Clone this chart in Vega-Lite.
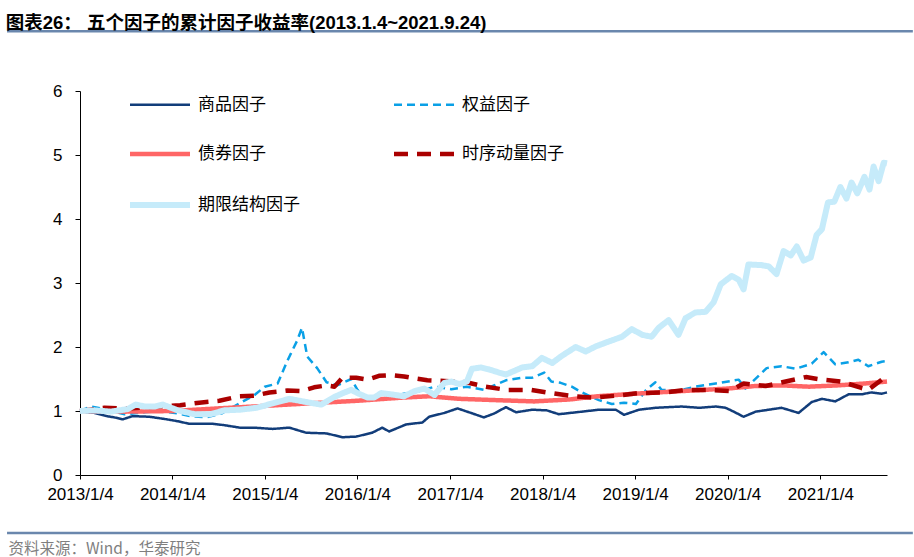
{
  "$schema": "https://vega.github.io/schema/vega-lite/v6.json",
  "width": 807,
  "height": 384,
  "autosize": {"type": "none"},
  "padding": {"left": 80, "top": 91, "right": 27, "bottom": 82},
  "background": "white",
  "title": {
    "text": "图表26：  五个因子的累计因子收益率(2013.1.4~2021.9.24)",
    "anchor": "start",
    "font": "Liberation Sans, Noto Sans CJK SC",
    "fontSize": 18.5,
    "fontWeight": "bold",
    "color": "#000000",
    "offset": -2
  },
  "config": {
    "view": {"stroke": null},
    "axis": {"grid": false, "domainColor": "#000000", "tickColor": "#000000", "labelColor": "#000000", "labelFont": "Liberation Sans", "labelFontSize": 17}
  },
  "layer": [
    {
      "data": {"values": [
        {"t":"2013-01-04","k":"商品因子","v":1.00},{"t":"2013-02-01","k":"商品因子","v":0.98},{"t":"2013-03-02","k":"商品因子","v":0.97},{"t":"2013-04-19","k":"商品因子","v":0.92},{"t":"2013-05-20","k":"商品因子","v":0.90},{"t":"2013-06-22","k":"商品因子","v":0.87},{"t":"2013-07-30","k":"商品因子","v":0.92},{"t":"2013-10-06","k":"商品因子","v":0.91},{"t":"2013-12-12","k":"商品因子","v":0.87},{"t":"2014-01-25","k":"商品因子","v":0.84},{"t":"2014-03-11","k":"商品因子","v":0.80},{"t":"2014-06-11","k":"商品因子","v":0.80},{"t":"2014-07-25","k":"商品因子","v":0.78},{"t":"2014-09-26","k":"商品因子","v":0.74},{"t":"2014-11-20","k":"商品因子","v":0.74},{"t":"2015-02-04","k":"商品因子","v":0.72},{"t":"2015-04-10","k":"商品因子","v":0.74},{"t":"2015-06-16","k":"商品因子","v":0.66},{"t":"2015-09-04","k":"商品因子","v":0.65},{"t":"2015-11-06","k":"商品因子","v":0.59},{"t":"2015-12-30","k":"商品因子","v":0.60},{"t":"2016-03-02","k":"商品因子","v":0.66},{"t":"2016-04-11","k":"商品因子","v":0.74},{"t":"2016-05-08","k":"商品因子","v":0.68},{"t":"2016-07-14","k":"商品因子","v":0.79},{"t":"2016-09-16","k":"商品因子","v":0.82},{"t":"2016-10-13","k":"商品因子","v":0.91},{"t":"2016-12-12","k":"商品因子","v":0.97},{"t":"2017-02-02","k":"商品因子","v":1.04},{"t":"2017-03-27","k":"商品因子","v":0.97},{"t":"2017-05-17","k":"商品因子","v":0.90},{"t":"2017-06-26","k":"商品因子","v":0.96},{"t":"2017-08-12","k":"商品因子","v":1.06},{"t":"2017-09-21","k":"商品因子","v":0.98},{"t":"2017-11-24","k":"商品因子","v":1.02},{"t":"2018-01-20","k":"商品因子","v":1.01},{"t":"2018-03-09","k":"商品因子","v":0.95},{"t":"2018-06-08","k":"商品因子","v":0.99},{"t":"2018-08-14","k":"商品因子","v":1.02},{"t":"2018-10-20","k":"商品因子","v":1.02},{"t":"2018-11-21","k":"商品因子","v":0.94},{"t":"2019-01-19","k":"商品因子","v":1.02},{"t":"2019-03-25","k":"商品因子","v":1.05},{"t":"2019-07-06","k":"商品因子","v":1.07},{"t":"2019-09-15","k":"商品因子","v":1.05},{"t":"2019-11-18","k":"商品因子","v":1.07},{"t":"2019-12-27","k":"商品因子","v":1.05},{"t":"2020-01-28","k":"商品因子","v":0.99},{"t":"2020-03-07","k":"商品因子","v":0.91},{"t":"2020-04-24","k":"商品因子","v":0.99},{"t":"2020-08-04","k":"商品因子","v":1.05},{"t":"2020-10-10","k":"商品因子","v":0.97},{"t":"2020-12-01","k":"商品因子","v":1.14},{"t":"2021-01-10","k":"商品因子","v":1.19},{"t":"2021-03-04","k":"商品因子","v":1.15},{"t":"2021-04-25","k":"商品因子","v":1.26},{"t":"2021-06-15","k":"商品因子","v":1.26},{"t":"2021-07-24","k":"商品因子","v":1.29},{"t":"2021-09-03","k":"商品因子","v":1.27},{"t":"2021-09-24","k":"商品因子","v":1.29},
        {"t":"2013-01-04","k":"权益因子","v":1.00},{"t":"2013-02-17","k":"权益因子","v":1.07},{"t":"2013-04-19","k":"权益因子","v":1.02},{"t":"2013-06-29","k":"权益因子","v":0.95},{"t":"2013-09-17","k":"权益因子","v":0.98},{"t":"2013-11-15","k":"权益因子","v":1.00},{"t":"2014-01-14","k":"权益因子","v":0.97},{"t":"2014-03-15","k":"权益因子","v":0.92},{"t":"2014-05-18","k":"权益因子","v":0.90},{"t":"2014-07-16","k":"权益因子","v":0.96},{"t":"2014-09-26","k":"权益因子","v":1.12},{"t":"2014-11-24","k":"权益因子","v":1.25},{"t":"2015-01-03","k":"权益因子","v":1.38},{"t":"2015-02-23","k":"权益因子","v":1.43},{"t":"2015-04-02","k":"权益因子","v":1.78},{"t":"2015-05-11","k":"权益因子","v":2.10},{"t":"2015-05-30","k":"权益因子","v":2.30},{"t":"2015-06-20","k":"权益因子","v":1.85},{"t":"2015-07-29","k":"权益因子","v":1.67},{"t":"2015-09-04","k":"权益因子","v":1.45},{"t":"2015-10-16","k":"权益因子","v":1.40},{"t":"2015-12-11","k":"权益因子","v":1.50},{"t":"2016-01-04","k":"权益因子","v":1.33},{"t":"2016-02-01","k":"权益因子","v":1.20},{"t":"2016-04-19","k":"权益因子","v":1.20},{"t":"2016-07-06","k":"权益因子","v":1.27},{"t":"2016-08-27","k":"权益因子","v":1.30},{"t":"2016-11-03","k":"权益因子","v":1.38},{"t":"2017-01-09","k":"权益因子","v":1.34},{"t":"2017-03-11","k":"权益因子","v":1.38},{"t":"2017-05-17","k":"权益因子","v":1.33},{"t":"2017-06-26","k":"权益因子","v":1.40},{"t":"2017-08-12","k":"权益因子","v":1.48},{"t":"2017-10-15","k":"权益因子","v":1.52},{"t":"2017-11-24","k":"权益因子","v":1.52},{"t":"2018-01-10","k":"权益因子","v":1.60},{"t":"2018-02-07","k":"权益因子","v":1.46},{"t":"2018-03-16","k":"权益因子","v":1.44},{"t":"2018-04-29","k":"权益因子","v":1.38},{"t":"2018-06-08","k":"权益因子","v":1.29},{"t":"2018-08-14","k":"权益因子","v":1.17},{"t":"2018-10-04","k":"权益因子","v":1.11},{"t":"2018-11-21","k":"权益因子","v":1.13},{"t":"2019-01-07","k":"权益因子","v":1.11},{"t":"2019-02-16","k":"权益因子","v":1.33},{"t":"2019-03-25","k":"权益因子","v":1.45},{"t":"2019-04-18","k":"权益因子","v":1.33},{"t":"2019-06-24","k":"权益因子","v":1.32},{"t":"2019-08-30","k":"权益因子","v":1.38},{"t":"2019-11-18","k":"权益因子","v":1.43},{"t":"2020-02-17","k":"权益因子","v":1.49},{"t":"2020-03-14","k":"权益因子","v":1.35},{"t":"2020-06-06","k":"权益因子","v":1.67},{"t":"2020-08-04","k":"权益因子","v":1.70},{"t":"2020-09-29","k":"权益因子","v":1.66},{"t":"2020-12-01","k":"权益因子","v":1.74},{"t":"2021-01-17","k":"权益因子","v":1.92},{"t":"2021-03-04","k":"权益因子","v":1.73},{"t":"2021-04-25","k":"权益因子","v":1.76},{"t":"2021-06-03","k":"权益因子","v":1.80},{"t":"2021-07-12","k":"权益因子","v":1.70},{"t":"2021-09-03","k":"权益因子","v":1.77},{"t":"2021-09-24","k":"权益因子","v":1.78},
        {"t":"2013-01-04","k":"债券因子","v":1.00},{"t":"2013-07-01","k":"债券因子","v":0.99},{"t":"2014-01-03","k":"债券因子","v":1.00},{"t":"2014-07-01","k":"债券因子","v":1.04},{"t":"2015-01-05","k":"债券因子","v":1.08},{"t":"2015-07-01","k":"债券因子","v":1.12},{"t":"2016-01-04","k":"债券因子","v":1.16},{"t":"2016-07-01","k":"债券因子","v":1.21},{"t":"2016-10-14","k":"债券因子","v":1.23},{"t":"2017-02-10","k":"债券因子","v":1.19},{"t":"2017-07-01","k":"债券因子","v":1.17},{"t":"2017-12-01","k":"债券因子","v":1.15},{"t":"2018-04-20","k":"债券因子","v":1.18},{"t":"2018-08-07","k":"债券因子","v":1.23},{"t":"2019-01-02","k":"债券因子","v":1.27},{"t":"2019-07-01","k":"债券因子","v":1.31},{"t":"2020-01-02","k":"债券因子","v":1.35},{"t":"2020-04-20","k":"债券因子","v":1.39},{"t":"2020-08-07","k":"债券因子","v":1.40},{"t":"2020-11-20","k":"债券因子","v":1.38},{"t":"2021-03-12","k":"债券因子","v":1.40},{"t":"2021-06-30","k":"债券因子","v":1.43},{"t":"2021-09-24","k":"债券因子","v":1.46},
        {"t":"2013-01-04","k":"时序动量因子","v":1.00},{"t":"2013-04-11","k":"时序动量因子","v":1.05},{"t":"2013-07-11","k":"时序动量因子","v":1.04},{"t":"2013-11-03","k":"时序动量因子","v":1.07},{"t":"2014-02-03","k":"时序动量因子","v":1.09},{"t":"2014-04-20","k":"时序动量因子","v":1.13},{"t":"2014-07-08","k":"时序动量因子","v":1.16},{"t":"2014-09-26","k":"时序动量因子","v":1.23},{"t":"2014-11-24","k":"时序动量因子","v":1.24},{"t":"2015-01-22","k":"时序动量因子","v":1.29},{"t":"2015-04-02","k":"时序动量因子","v":1.32},{"t":"2015-05-26","k":"时序动量因子","v":1.31},{"t":"2015-07-17","k":"时序动量因子","v":1.37},{"t":"2015-09-04","k":"时序动量因子","v":1.40},{"t":"2015-10-05","k":"时序动量因子","v":1.38},{"t":"2015-11-06","k":"时序动量因子","v":1.52},{"t":"2015-12-30","k":"时序动量因子","v":1.52},{"t":"2016-02-13","k":"时序动量因子","v":1.49},{"t":"2016-03-29","k":"时序动量因子","v":1.55},{"t":"2016-05-16","k":"时序动量因子","v":1.56},{"t":"2016-07-06","k":"时序动量因子","v":1.54},{"t":"2016-08-16","k":"时序动量因子","v":1.51},{"t":"2016-10-06","k":"时序动量因子","v":1.48},{"t":"2016-12-12","k":"时序动量因子","v":1.47},{"t":"2017-03-08","k":"时序动量因子","v":1.45},{"t":"2017-05-25","k":"时序动量因子","v":1.38},{"t":"2017-08-12","k":"时序动量因子","v":1.33},{"t":"2017-11-20","k":"时序动量因子","v":1.33},{"t":"2018-02-07","k":"时序动量因子","v":1.28},{"t":"2018-05-07","k":"时序动量因子","v":1.23},{"t":"2018-07-24","k":"时序动量因子","v":1.21},{"t":"2018-10-24","k":"时序动量因子","v":1.24},{"t":"2019-01-19","k":"时序动量因子","v":1.28},{"t":"2019-04-30","k":"时序动量因子","v":1.29},{"t":"2019-07-25","k":"时序动量因子","v":1.33},{"t":"2019-10-13","k":"时序动量因子","v":1.33},{"t":"2020-01-12","k":"时序动量因子","v":1.31},{"t":"2020-03-07","k":"时序动量因子","v":1.43},{"t":"2020-06-02","k":"时序动量因子","v":1.39},{"t":"2020-08-20","k":"时序动量因子","v":1.46},{"t":"2020-11-08","k":"时序动量因子","v":1.53},{"t":"2021-01-10","k":"时序动量因子","v":1.49},{"t":"2021-03-28","k":"时序动量因子","v":1.46},{"t":"2021-06-15","k":"时序动量因子","v":1.36},{"t":"2021-07-12","k":"时序动量因子","v":1.33},{"t":"2021-09-03","k":"时序动量因子","v":1.49},{"t":"2021-09-24","k":"时序动量因子","v":1.50},
        {"t":"2013-01-04","k":"期限结构因子","v":1.00},{"t":"2013-03-02","k":"期限结构因子","v":1.01},{"t":"2013-05-05","k":"期限结构因子","v":0.99},{"t":"2013-07-11","k":"期限结构因子","v":1.03},{"t":"2013-08-12","k":"期限结构因子","v":1.10},{"t":"2013-09-17","k":"期限结构因子","v":1.07},{"t":"2013-10-26","k":"期限结构因子","v":1.07},{"t":"2013-11-27","k":"期限结构因子","v":1.10},{"t":"2014-01-25","k":"期限结构因子","v":1.01},{"t":"2014-04-01","k":"期限结构因子","v":0.95},{"t":"2014-06-03","k":"期限结构因子","v":0.95},{"t":"2014-07-28","k":"期限结构因子","v":1.01},{"t":"2014-09-26","k":"期限结构因子","v":1.02},{"t":"2014-12-02","k":"期限结构因子","v":1.05},{"t":"2015-02-04","k":"期限结构因子","v":1.12},{"t":"2015-04-10","k":"期限结构因子","v":1.19},{"t":"2015-06-16","k":"期限结构因子","v":1.14},{"t":"2015-08-14","k":"期限结构因子","v":1.10},{"t":"2015-10-05","k":"期限结构因子","v":1.22},{"t":"2015-11-14","k":"期限结构因子","v":1.29},{"t":"2015-12-11","k":"期限结构因子","v":1.33},{"t":"2016-01-04","k":"期限结构因子","v":1.28},{"t":"2016-02-13","k":"期限结构因子","v":1.21},{"t":"2016-03-10","k":"期限结构因子","v":1.21},{"t":"2016-04-07","k":"期限结构因子","v":1.28},{"t":"2016-05-16","k":"期限结构因子","v":1.26},{"t":"2016-07-06","k":"期限结构因子","v":1.23},{"t":"2016-08-16","k":"期限结构因子","v":1.31},{"t":"2016-09-24","k":"期限结构因子","v":1.35},{"t":"2016-11-03","k":"期限结构因子","v":1.25},{"t":"2016-12-12","k":"期限结构因子","v":1.44},{"t":"2017-01-09","k":"期限结构因子","v":1.46},{"t":"2017-02-10","k":"期限结构因子","v":1.42},{"t":"2017-03-11","k":"期限结构因子","v":1.46},{"t":"2017-03-31","k":"期限结构因子","v":1.66},{"t":"2017-05-05","k":"期限结构因子","v":1.68},{"t":"2017-06-06","k":"期限结构因子","v":1.65},{"t":"2017-07-16","k":"期限结构因子","v":1.60},{"t":"2017-08-12","k":"期限结构因子","v":1.57},{"t":"2017-10-15","k":"期限结构因子","v":1.68},{"t":"2017-11-24","k":"期限结构因子","v":1.70},{"t":"2018-01-01","k":"期限结构因子","v":1.83},{"t":"2018-02-11","k":"期限结构因子","v":1.75},{"t":"2018-03-20","k":"期限结构因子","v":1.86},{"t":"2018-05-14","k":"期限结构因子","v":2.00},{"t":"2018-06-23","k":"期限结构因子","v":1.93},{"t":"2018-08-02","k":"期限结构因子","v":2.01},{"t":"2018-09-11","k":"期限结构因子","v":2.07},{"t":"2018-11-13","k":"期限结构因子","v":2.16},{"t":"2018-12-22","k":"期限结构因子","v":2.28},{"t":"2019-02-01","k":"期限结构因子","v":2.19},{"t":"2019-03-10","k":"期限结构因子","v":2.16},{"t":"2019-04-07","k":"期限结构因子","v":2.30},{"t":"2019-05-16","k":"期限结构因子","v":2.42},{"t":"2019-06-24","k":"期限结构因子","v":2.19},{"t":"2019-07-22","k":"期限结构因子","v":2.45},{"t":"2019-08-30","k":"期限结构因子","v":2.54},{"t":"2019-10-09","k":"期限结构因子","v":2.55},{"t":"2019-11-10","k":"期限结构因子","v":2.70},{"t":"2019-12-08","k":"期限结构因子","v":2.98},{"t":"2020-01-20","k":"期限结构因子","v":3.11},{"t":"2020-02-17","k":"期限结构因子","v":3.05},{"t":"2020-03-07","k":"期限结构因子","v":2.90},{"t":"2020-03-26","k":"期限结构因子","v":3.29},{"t":"2020-05-16","k":"期限结构因子","v":3.28},{"t":"2020-06-14","k":"期限结构因子","v":3.26},{"t":"2020-07-15","k":"期限结构因子","v":3.14},{"t":"2020-08-12","k":"期限结构因子","v":3.50},{"t":"2020-09-09","k":"期限结构因子","v":3.43},{"t":"2020-10-03","k":"期限结构因子","v":3.57},{"t":"2020-10-30","k":"期限结构因子","v":3.35},{"t":"2020-11-27","k":"期限结构因子","v":3.40},{"t":"2020-12-20","k":"期限结构因子","v":3.75},{"t":"2021-01-10","k":"期限结构因子","v":3.84},{"t":"2021-02-03","k":"期限结构因子","v":4.26},{"t":"2021-02-28","k":"期限结构因子","v":4.27},{"t":"2021-03-24","k":"期限结构因子","v":4.50},{"t":"2021-04-17","k":"期限结构因子","v":4.32},{"t":"2021-05-07","k":"期限结构因子","v":4.57},{"t":"2021-05-30","k":"期限结构因子","v":4.40},{"t":"2021-06-27","k":"期限结构因子","v":4.66},{"t":"2021-07-17","k":"期限结构因子","v":4.46},{"t":"2021-08-02","k":"期限结构因子","v":4.82},{"t":"2021-08-22","k":"期限结构因子","v":4.59},{"t":"2021-09-11","k":"期限结构因子","v":4.88},{"t":"2021-09-24","k":"期限结构因子","v":4.87}
      ]},
      "mark": {"type": "line", "strokeJoin": "round"},
      "encoding": {
        "x": {
          "field": "t", "type": "temporal",
          "scale": {"type": "utc", "domain": [{"year": 2013, "month": 1, "date": 4, "utc": true}, {"year": 2021, "month": 9, "date": 24, "utc": true}]},
          "axis": {
            "values": [
              {"year": 2013, "month": 1, "date": 4, "utc": true}, {"year": 2014, "month": 1, "date": 4, "utc": true}, {"year": 2015, "month": 1, "date": 4, "utc": true},
              {"year": 2016, "month": 1, "date": 4, "utc": true}, {"year": 2017, "month": 1, "date": 4, "utc": true}, {"year": 2018, "month": 1, "date": 4, "utc": true},
              {"year": 2019, "month": 1, "date": 4, "utc": true}, {"year": 2020, "month": 1, "date": 4, "utc": true}, {"year": 2021, "month": 1, "date": 4, "utc": true}
            ],
            "format": "%Y/%-m/%-d",
            "tickSize": 4,
            "labelPadding": 7,
            "labelFlush": false,
            "labelOverlap": false,
            "title": "资料来源：Wind，华泰研究",
            "titleX": -72,
            "titleY": 78,
            "titleAlign": "left",
            "titleBaseline": "alphabetic",
            "titleFont": "Noto Sans CJK SC",
            "titleFontSize": 15.5,
            "titleFontWeight": "normal",
            "titleColor": "#7f7f7f"
          }
        },
        "y": {
          "field": "v", "type": "quantitative",
          "scale": {"domain": [0, 6], "nice": false},
          "axis": {"values": [0, 1, 2, 3, 4, 5, 6], "format": "d", "tickSize": 5, "labelPadding": 13, "title": null}
        },
        "color": {
          "field": "k", "type": "nominal",
          "scale": {"domain": ["商品因子", "权益因子", "债券因子", "时序动量因子", "期限结构因子"], "range": ["#123d7a", "#0aa0e6", "#ff6666", "#aa0000", "#c6ebfa"]},
          "legend": {
            "title": null, "orient": "none", "legendX": 47, "legendY": -18, "columns": 2, "direction": "horizontal",
            "columnPadding": 85, "rowPadding": 8.5, "symbolType": "stroke", "symbolSize": 3600,
            "labelFont": "Noto Sans CJK SC", "labelFontSize": 17, "labelColor": "#000000", "labelOffset": 5, "padding": 0
          }
        },
        "strokeDash": {
          "field": "k", "type": "nominal",
          "scale": {"domain": ["商品因子", "权益因子", "债券因子", "时序动量因子", "期限结构因子"], "range": [[1, 0], [8, 5], [1, 0], [14, 9], [1, 0]]},
          "legend": null
        },
        "strokeWidth": {
          "field": "k", "type": "nominal",
          "scale": {"type": "ordinal", "domain": ["商品因子", "权益因子", "债券因子", "时序动量因子", "期限结构因子"], "range": [2.5, 2.5, 4.5, 4.5, 6]},
          "legend": null
        }
      }
    },
    {
      "data": {"values": [{}]},
      "mark": {"type": "rule", "color": "#6a87ad", "strokeWidth": 2.5, "clip": false},
      "encoding": {
        "x": {"datum": {"year": 2012, "month": 3, "date": 22, "utc": true}, "type": "temporal"},
        "x2": {"datum": {"year": 2022, "month": 1, "date": 4, "utc": true}},
        "y": {"datum": 6.933, "type": "quantitative"}
      }
    },
    {
      "data": {"values": [{}]},
      "mark": {"type": "rule", "color": "#6a87ad", "strokeWidth": 2.5, "clip": false},
      "encoding": {
        "x": {"datum": {"year": 2012, "month": 3, "date": 22, "utc": true}, "type": "temporal"},
        "x2": {"datum": {"year": 2022, "month": 1, "date": 4, "utc": true}},
        "y": {"datum": -0.906, "type": "quantitative"}
      }
    }
  ]
}
